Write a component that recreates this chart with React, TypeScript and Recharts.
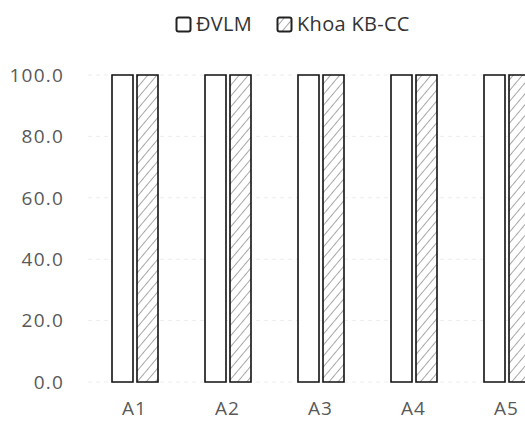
import { BarChart, Bar, XAxis, YAxis, CartesianGrid } from 'recharts';

const categories = ['A1', 'A2', 'A3', 'A4', 'A5'];
const dvlmValues = [100, 100, 100, 100, 100];
const khoaValues = [100, 100, 100, 100, 100];
const yTicks = [0, 20, 40, 60, 80, 100];

const seriesNames = { dvlm: 'ĐVLM', khoa: 'Khoa KB-CC' };

const data = categories.map((name, i) => ({
  name,
  dvlm: dvlmValues[i],
  khoa: khoaValues[i],
}));

const font = "'Open Sans', 'DejaVu Sans', sans-serif";
const textColor = '#595959';

function LegendBox({ hatched }: { hatched?: boolean }) {
  return (
    <svg width={17} height={17} style={{ marginRight: 4 }}>
      <rect x={1.5} y={1.5} width={14} height={14} rx={2} fill={hatched ? 'url(#hatch)' : '#fff'} stroke="#222" strokeWidth={2} />
    </svg>
  );
}

export default function App() {
  return (
    <div style={{ position: 'absolute', left: 0, top: 0, width: 525, height: 421, overflow: 'hidden', background: '#fff' }}>
      <svg width={0} height={0} style={{ position: 'absolute' }}>
        <defs>
          <pattern id="hatch" patternUnits="userSpaceOnUse" width={7} height={7} patternTransform="rotate(40)">
            <rect width={7} height={7} fill="#fff" />
            <line x1={0} y1={0} x2={0} y2={7} stroke="#777" strokeWidth={1.3} />
          </pattern>
        </defs>
      </svg>
      <div
        style={{
          position: 'absolute',
          top: 11,
          left: 175,
          display: 'flex',
          alignItems: 'center',
          fontFamily: font,
          fontSize: 20,
          lineHeight: '26px',
          letterSpacing: 0.3,
          color: '#333',
          whiteSpace: 'nowrap',
        }}
      >
        <LegendBox />
        <span style={{ marginRight: 24 }}>{seriesNames.dvlm}</span>
        <LegendBox hatched />
        <span>{seriesNames.khoa}</span>
      </div>
      <BarChart
        width={562}
        height={421}
        data={data}
        margin={{ top: 75, right: 9, bottom: 9, left: 0 }}
        barSize={21}
        barGap={4}
      >
        <CartesianGrid vertical={false} stroke="#ededed" strokeDasharray="4 4" />
        <XAxis
          dataKey="name"
          height={30}
          axisLine={false}
          tickLine={false}
          tickSize={0}
          tickMargin={20}
          tick={{ fill: textColor, fontSize: 19, fontFamily: font, letterSpacing: 1 }}
        />
        <YAxis
          width={88}
          domain={[0, 100]}
          ticks={yTicks}
          tickFormatter={(v: number) => v.toFixed(1)}
          axisLine={false}
          tickLine={false}
          tickSize={0}
          tickMargin={24}
          tick={{ fill: textColor, fontSize: 19, fontFamily: font, letterSpacing: 1.2 }}
        />
        <Bar dataKey="dvlm" name={seriesNames.dvlm} fill="#fff" stroke="#111" strokeWidth={1.6} isAnimationActive={false} />
        <Bar dataKey="khoa" name={seriesNames.khoa} fill="url(#hatch)" stroke="#111" strokeWidth={1.6} isAnimationActive={false} />
      </BarChart>
    </div>
  );
}
